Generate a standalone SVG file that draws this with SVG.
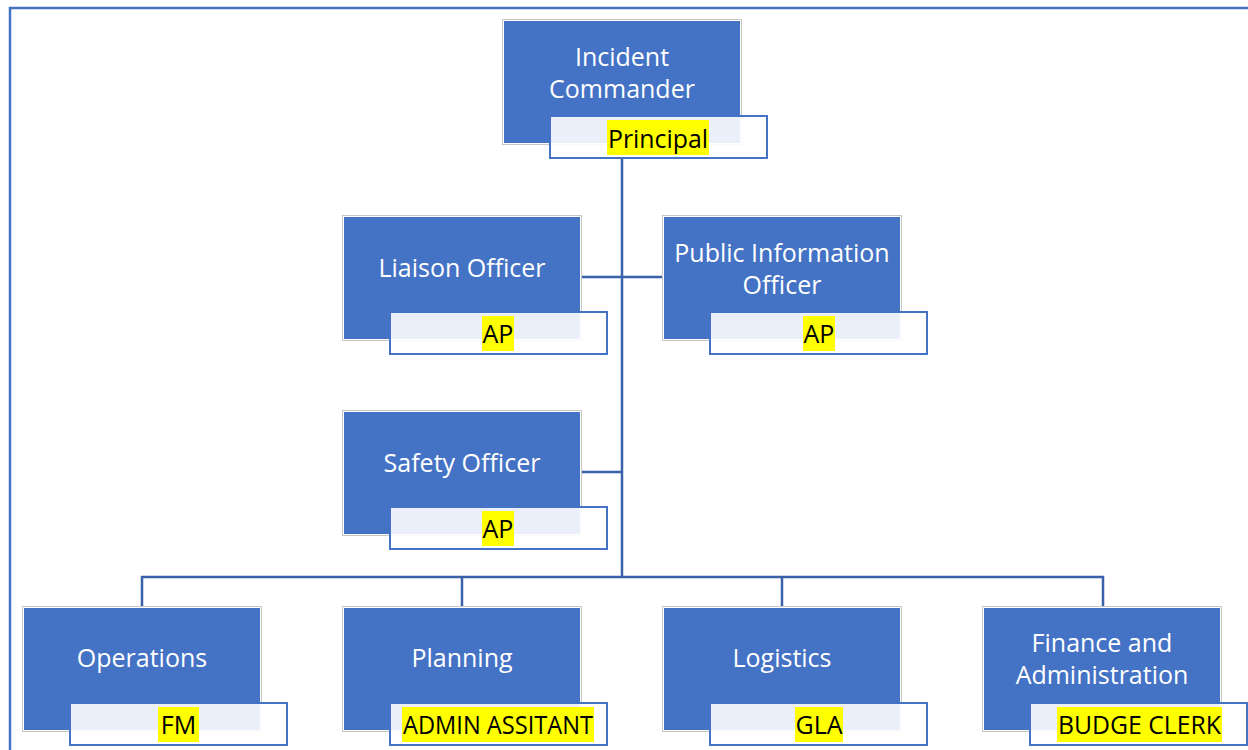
<svg xmlns="http://www.w3.org/2000/svg" width="1248" height="750" viewBox="0 0 1248 750">
<style>
.frame{fill:none;stroke:#4472C4;stroke-width:2.5}
.conn{fill:none;stroke:#3A62A8;stroke-width:2.5}
.outer{fill:#FFFFFF;stroke:#C6C6C6;stroke-width:1}
.box{fill:#4472C4}
.lbl{fill:#FFFFFF;fill-opacity:0.89;stroke:#4472C4;stroke-width:2}
.hl{fill:#FFFF00}
.t{font-family:"Open Sans","Liberation Sans",sans-serif;font-size:25px;fill:#FFFFFF;text-anchor:middle}
.lt{font-family:"Open Sans","Liberation Sans",sans-serif;font-size:25px;fill:#000000;text-anchor:middle}
</style>
<rect x="0" y="0" width="1248" height="750" fill="#FFFFFF"/>
<path class="frame" d="M10,750 V8 H1248"/>
<g id="connectors">
<path class="conn" d="M622,158 V577"/>
<path class="conn" d="M582,277 H662"/>
<path class="conn" d="M582,472 H622"/>
<path class="conn" d="M142,606 V577 H1103 V606"/>
<path class="conn" d="M462,577 V606"/>
<path class="conn" d="M782,577 V606"/>
</g>
<g id="incident-commander">
<rect class="outer" x="502.5" y="19.5" width="239" height="125"/>
<rect class="box" x="504" y="21" width="236" height="122"/>
<text class="t" x="622" y="66">Incident</text>
<text class="t" x="622" y="98">Commander</text>
<rect class="lbl" x="550" y="116" width="217" height="42"/>
<rect class="hl" x="607" y="120" width="102" height="35"/>
<text class="lt" x="658" y="148" textLength="100" lengthAdjust="spacingAndGlyphs">Principal</text>
</g>
<g id="liaison-officer">
<rect class="outer" x="342.5" y="215.5" width="239" height="125"/>
<rect class="box" x="344" y="217" width="236" height="122"/>
<text class="t" x="462" y="277">Liaison Officer</text>
<rect class="lbl" x="390" y="312" width="217" height="42"/>
<rect class="hl" x="482" y="316" width="32" height="35"/>
<text class="lt" x="498" y="343">AP</text>
</g>
<g id="public-information-officer">
<rect class="outer" x="662.5" y="215.5" width="239" height="125"/>
<rect class="box" x="664" y="217" width="236" height="122"/>
<text class="t" x="782" y="262">Public Information</text>
<text class="t" x="782" y="294">Officer</text>
<rect class="lbl" x="710" y="312" width="217" height="42"/>
<rect class="hl" x="803" y="316" width="32" height="35"/>
<text class="lt" x="819" y="343">AP</text>
</g>
<g id="safety-officer">
<rect class="outer" x="342.5" y="410.5" width="239" height="125"/>
<rect class="box" x="344" y="412" width="236" height="122"/>
<text class="t" x="462" y="472">Safety Officer</text>
<rect class="lbl" x="390" y="507" width="217" height="42"/>
<rect class="hl" x="482" y="511" width="32" height="35"/>
<text class="lt" x="498" y="538">AP</text>
</g>
<g id="operations">
<rect class="outer" x="22.5" y="606.5" width="239" height="125"/>
<rect class="box" x="24" y="608" width="236" height="122"/>
<text class="t" x="142" y="667">Operations</text>
<rect class="lbl" x="70" y="703" width="217" height="42"/>
<rect class="hl" x="158" y="707" width="41" height="35"/>
<text class="lt" x="178.5" y="734">FM</text>
</g>
<g id="planning">
<rect class="outer" x="342.5" y="606.5" width="239" height="125"/>
<rect class="box" x="344" y="608" width="236" height="122"/>
<text class="t" x="462" y="667">Planning</text>
<rect class="lbl" x="390" y="703" width="217" height="42"/>
<rect class="hl" x="402" y="707" width="192" height="35"/>
<text class="lt" x="498" y="734" textLength="190" lengthAdjust="spacingAndGlyphs">ADMIN ASSITANT</text>
</g>
<g id="logistics">
<rect class="outer" x="662.5" y="606.5" width="239" height="125"/>
<rect class="box" x="664" y="608" width="236" height="122"/>
<text class="t" x="782" y="667">Logistics</text>
<rect class="lbl" x="710" y="703" width="217" height="42"/>
<rect class="hl" x="795" y="707" width="48" height="35"/>
<text class="lt" x="819" y="734">GLA</text>
</g>
<g id="finance-administration">
<rect class="outer" x="982.5" y="606.5" width="239" height="125"/>
<rect class="box" x="984" y="608" width="236" height="122"/>
<text class="t" x="1102" y="652">Finance and</text>
<text class="t" x="1102" y="684">Administration</text>
<rect class="lbl" x="1030" y="703" width="217" height="42"/>
<rect class="hl" x="1057" y="707" width="165" height="35"/>
<text class="lt" x="1139.5" y="734" textLength="163" lengthAdjust="spacingAndGlyphs">BUDGE CLERK</text>
</g>
</svg>
